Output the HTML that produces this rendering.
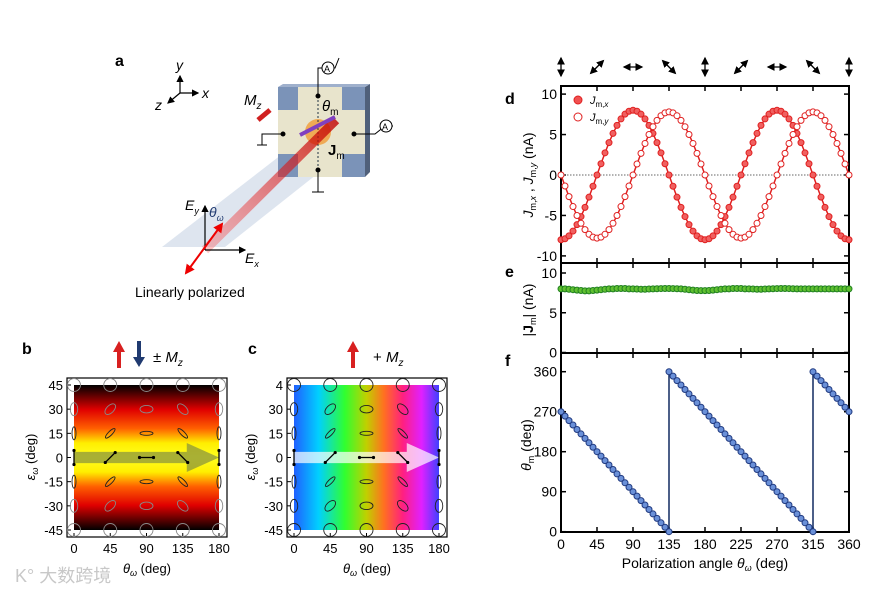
<!DOCTYPE html>
<html><head><meta charset="utf-8"><style>
html,body{margin:0;padding:0;background:#fff;}
svg{display:block;font-family:"Liberation Sans","Noto Sans CJK SC",sans-serif;}
</style></head><body>
<svg id="fig" width="884" height="590" viewBox="0 0 884 590" xmlns="http://www.w3.org/2000/svg">
<defs>
  <linearGradient id="heatB" x1="0" y1="0" x2="0" y2="1">
    <stop offset="0" stop-color="#000"/><stop offset="0.17" stop-color="#e00000"/>
    <stop offset="0.3" stop-color="#ff6000"/><stop offset="0.4" stop-color="#ffee00"/>
    <stop offset="0.5" stop-color="#ffff20"/><stop offset="0.6" stop-color="#ffee00"/>
    <stop offset="0.7" stop-color="#ff6000"/><stop offset="0.83" stop-color="#e00000"/>
    <stop offset="1" stop-color="#000"/>
  </linearGradient>
  <linearGradient id="heatC" x1="0" y1="0" x2="1" y2="0">
    <stop offset="0" stop-color="#2060ff"/><stop offset="0.17" stop-color="#00d0ff"/>
    <stop offset="0.35" stop-color="#30ff30"/><stop offset="0.5" stop-color="#c0d000"/>
    <stop offset="0.62" stop-color="#ff7020"/><stop offset="0.75" stop-color="#ff2080"/>
    <stop offset="0.88" stop-color="#e020ff"/><stop offset="1" stop-color="#4040ff"/>
  </linearGradient>
  <linearGradient id="beam" x1="0" y1="1" x2="1" y2="0">
    <stop offset="0" stop-color="#ff4040" stop-opacity="0.3"/><stop offset="1" stop-color="#c00000" stop-opacity="0.8"/>
  </linearGradient>
  <marker id="ah" markerWidth="6" markerHeight="6" refX="5" refY="3" orient="auto-start-reverse"><path d="M0,0 L6,3 L0,6 z" fill="#000"/></marker>
  <marker id="ahr" markerWidth="5" markerHeight="5" refX="4" refY="2.5" orient="auto-start-reverse"><path d="M0,0 L5,2.5 L0,5 z" fill="#e00"/></marker>
</defs>

<g>
  <text x="115" y="66" font-size="16" font-weight="bold">a</text>
  <g stroke="#000" stroke-width="1.2" fill="none">
    <line x1="180" y1="93" x2="180" y2="76" marker-end="url(#ah)"/>
    <line x1="180" y1="93" x2="198" y2="93" marker-end="url(#ah)"/>
    <line x1="180" y1="93" x2="168" y2="103" marker-end="url(#ah)"/>
  </g>
  <text x="176" y="70" font-size="14" font-style="italic">y</text>
  <text x="202" y="98" font-size="14" font-style="italic">x</text>
  <text x="155" y="110" font-size="14" font-style="italic">z</text>
  <polygon points="162,247 225,247 350,148 290,148" fill="#c8d4e4" opacity="0.6"/>
  <rect x="278" y="87" width="87" height="90" fill="#7b93b8"/>
  <polygon points="365,87 370,84 370,172 365,177" fill="#50607a"/>
  <polygon points="278,87 283,84 370,84 365,87" fill="#9fb0cc"/>
  <rect x="298" y="87" width="44" height="90" fill="#e8e4cc"/>
  <rect x="278" y="110" width="87" height="44" fill="#e8e4cc"/>
  <circle cx="318" cy="132" r="13" fill="#f0a040" opacity="0.85"/>
  <line x1="318" y1="96" x2="318" y2="170" stroke="#234" stroke-dasharray="2,2"/>
  <line x1="205" y1="250" x2="336" y2="120" stroke="url(#beam)" stroke-width="9"/>
  <line x1="300" y1="135" x2="335" y2="117" stroke="#8040c0" stroke-width="4"/>
  <g stroke="#000" fill="none" stroke-width="1">
    <circle cx="318" cy="96" r="2" fill="#000"/><circle cx="318" cy="170" r="2" fill="#000"/>
    <circle cx="283" cy="134" r="2" fill="#000"/><circle cx="354" cy="134" r="2" fill="#000"/>
    <polyline points="318,96 318,68 335,68 339,58"/><circle cx="328" cy="68" r="6" fill="#fff"/>
    <polyline points="354,134 375,134 385,126 393,126"/><circle cx="386" cy="126" r="6" fill="#fff"/>
    <polyline points="318,170 318,192"/><line x1="312" y1="192" x2="324" y2="192"/>
    <polyline points="283,134 262,134 262,145"/><line x1="257" y1="145" x2="267" y2="145"/>
  </g>
  <text x="324" y="72" font-size="9">A</text><text x="382" y="130" font-size="9">A</text>
  <line x1="270" y1="110" x2="258" y2="120" stroke="#d02020" stroke-width="5"/>
  <text x="244" y="105" font-size="15" font-style="italic">M<tspan font-size="10" dy="4">z</tspan></text>
  <text x="322" y="111" font-size="15" font-style="italic">θ<tspan font-size="10" dy="4" font-style="normal">m</tspan></text>
  <text x="328" y="155" font-size="15" font-weight="bold">J<tspan font-size="10" dy="4" font-weight="normal">m</tspan></text>
  <g stroke="#000" stroke-width="1.2" fill="none">
    <line x1="205" y1="250" x2="205" y2="206" marker-end="url(#ah)"/>
    <line x1="205" y1="250" x2="245" y2="250" marker-end="url(#ah)"/>
  </g>
  <line x1="222" y1="224" x2="186" y2="273" stroke="#e00" stroke-width="2" marker-start="url(#ahr)" marker-end="url(#ahr)"/>
  <text x="185" y="210" font-size="14" font-style="italic">E<tspan font-size="9" dy="4">y</tspan></text>
  <text x="209" y="217" font-size="14" font-style="italic" fill="#203a70">θ<tspan font-size="9" dy="4">ω</tspan></text>
  <text x="245" y="263" font-size="14" font-style="italic">E<tspan font-size="9" dy="4">x</tspan></text>
  <text x="135" y="297" font-size="14">Linearly polarized</text>
</g>

<text x="22" y="354" font-size="16" font-weight="bold">b</text>
<text x="248" y="354" font-size="16" font-weight="bold">c</text>
<g>
  <polygon points="117,368 121,368 121,352 125,352 119,341 113,352 117,352" fill="#d82020"/>
  <polygon points="137,341 141,341 141,357 145,357 139,367 133,357 137,357" fill="#203a70"/>
  <text x="153" y="362" font-size="15">± <tspan font-style="italic">M</tspan><tspan font-size="10" dy="4" font-style="italic">z</tspan></text>
  <polygon points="351,368 355,368 355,352 359,352 353,341 347,352 351,352" fill="#d82020"/>
  <text x="373" y="362" font-size="15">+ <tspan font-style="italic">M</tspan><tspan font-size="10" dy="4" font-style="italic">z</tspan></text>
</g>
<g id="panelB"></g>
<g id="panelC"></g>

<g id="right"></g>

<text x="15" y="582" font-size="18" fill="#c8c8c8">K° 大数跨境</text>
</svg>
<script>
const NS="http://www.w3.org/2000/svg";
function mk(parent,tag,attrs,text){const e=document.createElementNS(NS,tag);for(const k in attrs)e.setAttribute(k,attrs[k]);if(text!==undefined)e.textContent=text;parent.appendChild(e);return e;}

const thetaDeg=[0,5,10,15,20,25,30,35,40,45,50,55,60,65,70,75,80,85,90,95,100,105,110,115,120,125,130,135,140,145,150,155,160,165,170,175,180,185,190,195,200,205,210,215,220,225,230,235,240,245,250,255,260,265,270,275,280,285,290,295,300,305,310,315,320,325,330,335,340,345,350,355,360];
const jmx=[-8,-7.88,-7.52,-6.93,-6.13,-5.14,-4,-2.74,-1.39,0,1.39,2.74,4,5.14,6.13,6.93,7.52,7.88,8,7.88,7.52,6.93,6.13,5.14,4,2.74,1.39,0,-1.39,-2.74,-4,-5.14,-6.13,-6.93,-7.52,-7.88,-8,-7.88,-7.52,-6.93,-6.13,-5.14,-4,-2.74,-1.39,0,1.39,2.74,4,5.14,6.13,6.93,7.52,7.88,8,7.88,7.52,6.93,6.13,5.14,4,2.74,1.39,0,-1.39,-2.74,-4,-5.14,-6.13,-6.93,-7.52,-7.88,-8];
const jmy=[0,-1.36,-2.67,-3.9,-5.01,-5.97,-6.75,-7.33,-7.68,-7.8,-7.68,-7.33,-6.75,-5.97,-5.01,-3.9,-2.67,-1.36,0,1.36,2.67,3.9,5.01,5.97,6.75,7.33,7.68,7.8,7.68,7.33,6.75,5.97,5.01,3.9,2.67,1.36,0,-1.36,-2.67,-3.9,-5.01,-5.97,-6.75,-7.33,-7.68,-7.8,-7.68,-7.33,-6.75,-5.97,-5.01,-3.9,-2.67,-1.36,0,1.36,2.67,3.9,5.01,5.97,6.75,7.33,7.68,7.8,7.68,7.33,6.75,5.97,5.01,3.9,2.67,1.36,0];
const jmAbs=[8,8,7.95,7.9,7.85,7.8,7.75,7.75,7.8,7.85,7.9,7.95,8,8,8.05,8.05,8.05,8,8,7.98,7.96,7.96,7.98,8,8.02,8.04,8.05,8.05,8.04,8.02,8,7.95,7.9,7.85,7.8,7.78,7.78,7.8,7.85,7.9,7.95,8,8,8.05,8.05,8.05,8,8,7.98,7.96,7.96,7.98,8,8.02,8.04,8.05,8.05,8.04,8.02,8,8,8,8,8,8,8,8,8,8,8,8,8,8];
const thetaMX=[0,5,10,15,20,25,30,35,40,45,50,55,60,65,70,75,80,85,90,95,100,105,110,115,120,125,130,135,135,140,145,150,155,160,165,170,175,180,185,190,195,200,205,210,215,220,225,230,235,240,245,250,255,260,265,270,275,280,285,290,295,300,305,310,315,315,320,325,330,335,340,345,350,355,360];
const thetaMY=[270,260,250,240,230,220,210,200,190,180,170,160,150,140,130,120,110,100,90,80,70,60,50,40,30,20,10,0,360,350,340,330,320,310,300,290,280,270,260,250,240,230,220,210,200,190,180,170,160,150,140,130,120,110,100,90,80,70,60,50,40,30,20,10,0,360,350,340,330,320,310,300,290,280,270];
const xTicks=[0,45,90,135,180,225,270,315,360];
const dTicks=[10,5,0,-5,-10], eTicks=[10,5,0], fTicks=[360,270,180,90,0];
const pol=[90,45,0,135,90,45,0,135,90];

const X=v=>561+v*(288/360);
const Yd=v=>175-v*8.09;
const Ye=v=>352.5-v*7.95;
const Yf=v=>531.7-v*(160/360);
const R=document.getElementById('right');

pol.forEach((a,i)=>{const cx=X(xTicks[i]),cy=67,L=9,r=a*Math.PI/180;
  const l=mk(R,'line',{x1:cx-L*Math.cos(r),y1:cy+L*Math.sin(r),x2:cx+L*Math.cos(r),y2:cy-L*Math.sin(r),stroke:'#000','stroke-width':1.3,'marker-start':'url(#ah)','marker-end':'url(#ah)'});
  
  });

function frame(top,bot,ticks,Yf_,label,letter,ly){
  const g=mk(R,'g',{});
  
  
  mk(g,'rect',{x:X(0),y:top,width:X(360)-X(0),height:bot-top,fill:'none',stroke:'#000','stroke-width':2});
  xTicks.forEach(t=>{mk(g,'line',{x1:X(t),x2:X(t),y1:top,y2:top+5,stroke:'#000','stroke-width':1.5});mk(g,'line',{x1:X(t),x2:X(t),y1:bot,y2:bot-5,stroke:'#000','stroke-width':1.5});});
  ticks.forEach(t=>{const y=Yf_(t);mk(g,'line',{x1:X(0),x2:X(0)+5,y1:y,y2:y,stroke:'#000','stroke-width':1.5});mk(g,'line',{x1:X(360),x2:X(360)-5,y1:y,y2:y,stroke:'#000','stroke-width':1.5});
    const tl=mk(g,'text',{x:X(0)-4,y:y+5,'font-size':14,'text-anchor':'end'},String(t));
    
    });
  mk(g,'text',{x:505,y:ly,'font-size':16,'font-weight':'bold'},letter);
  return g;
}
const gd=frame(86,263,dTicks,Yd,'','d',104);
const ge=frame(263,353,eTicks,Ye,'','e',277);
const gf=frame(353,532,fTicks,Yf,'','f',366);
mk(gd,'line',{x1:X(0),x2:X(360),y1:Yd(0),y2:Yd(0),stroke:'#666','stroke-dasharray':'1.5,1.5'});

mk(R,'text',{transform:'translate(533,175) rotate(-90)','font-size':14,'text-anchor':'middle'}).innerHTML='<tspan font-style="italic">J</tspan><tspan font-size="9" dy="3">m,<tspan font-style="italic">x</tspan></tspan><tspan dy="-3"> , </tspan><tspan font-style="italic">J</tspan><tspan font-size="9" dy="3">m,<tspan font-style="italic">y</tspan></tspan><tspan dy="-3"> (nA)</tspan>';
mk(R,'text',{transform:'translate(533,310) rotate(-90)','font-size':14,'text-anchor':'middle'}).innerHTML='|<tspan font-weight="bold">J</tspan><tspan font-size="9" dy="3">m</tspan><tspan dy="-3">| (nA)</tspan>';
mk(R,'text',{transform:'translate(531,445) rotate(-90)','font-size':14,'text-anchor':'middle'}).innerHTML='<tspan font-style="italic">θ</tspan><tspan font-size="9" dy="3">m</tspan><tspan dy="-3"> (deg)</tspan>';
xTicks.forEach(t=>{const tl=mk(R,'text',{x:X(t),y:549,'font-size':14,'text-anchor':'middle'},String(t));
  
  });
const xl=mk(R,'text',{x:X(180),y:568,'font-size':14,'text-anchor':'middle'});
xl.innerHTML='Polarization angle  <tspan font-style="italic">θ</tspan><tspan font-size="9" dy="3" font-style="italic">ω</tspan><tspan dy="-3"> (deg)</tspan>';



mk(gd,'circle',{cx:578,cy:100,r:4,fill:'#f05050',stroke:'#e02020'});
mk(gd,'text',{x:590,y:104,'font-size':11,'font-style':'italic'}).innerHTML='J<tspan font-size="8" dy="3" font-style="normal">m,</tspan><tspan font-size="8">x</tspan>';
mk(gd,'circle',{cx:578,cy:117,r:4,fill:'#fff',stroke:'#e02020'});
mk(gd,'text',{x:590,y:121,'font-size':11,'font-style':'italic'}).innerHTML='J<tspan font-size="8" dy="3" font-style="normal">m,</tspan><tspan font-size="8">y</tspan>';

function series(g,xs,ys,Y,lineCol,fill,stroke,name){
  const pl=mk(g,'polyline',{points:xs.map((x,i)=>X(x)+','+Y(ys[i])).join(' '),fill:'none',stroke:lineCol,'stroke-width':1.5});
  
  
  xs.forEach((x,i)=>{const c=mk(g,'circle',{cx:X(x),cy:Y(ys[i]),r:3,fill:fill,stroke:stroke,'stroke-width':1});
    
    });
}
series(gd,thetaDeg,jmx,Yd,'#e02020','#f06060','#e02020','jmx');
series(gd,thetaDeg,jmy,Yd,'#e02020','#fff','#e02020','jmy');
series(ge,thetaDeg,jmAbs,Ye,'#208020','#60c030','#208020','jm-abs');
series(gf,thetaMX,thetaMY,Yf,'#102a60','#6a90d8','#203a80','theta-m');

const epsTicks=[45,30,15,0,-15,-30,-45];
const thTicks=[0,45,90,135,180];
const ellTheta=[0,45,90,135,180];
const ellEps=[45,30,15,0,-15,-30,-45];
function heat(gid,x0,fill,arrowFill,topLabel){
  const g=document.getElementById(gid);
  const XX=v=>x0+7+v*(145/180), YY=v=>457.5-v*(145/90);
  mk(g,'rect',{x:x0,y:378,width:160,height:159,fill:'#fff',stroke:'#000','stroke-width':1.2});
  mk(g,'rect',{x:XX(0),y:YY(45),width:XX(180)-XX(0),height:YY(-45)-YY(45),fill:fill});
  mk(g,'polygon',{points:`${XX(0)},${YY(3.5)} ${XX(140)},${YY(3.5)} ${XX(140)},${YY(9)} ${XX(180)},${YY(0)} ${XX(140)},${YY(-9)} ${XX(140)},${YY(-3.5)} ${XX(0)},${YY(-3.5)}`,fill:arrowFill});
  thTicks.forEach(t=>{mk(g,'line',{x1:XX(t),x2:XX(t),y1:537,y2:533,stroke:'#000'});
    const tl=mk(g,'text',{x:XX(t),y:553,'font-size':13,'text-anchor':'middle'},String(t));
    
    });
  epsTicks.forEach((t,i)=>{mk(g,'line',{x1:x0,x2:x0+4,y1:YY(t),y2:YY(t),stroke:'#000'});
    const tl=mk(g,'text',{x:x0-4,y:YY(t)+5,'font-size':13,'text-anchor':'end'},(topLabel&&i==0)?topLabel:String(t));
    
    });
  const xt=mk(g,'text',{x:x0+80,y:573,'font-size':13,'text-anchor':'middle'});
  xt.innerHTML='<tspan font-style="italic">θ</tspan><tspan font-size="9" dy="3" font-style="italic">ω</tspan><tspan dy="-3"> (deg)</tspan>';
  const yt=mk(g,'text',{transform:`translate(${x0-32},457) rotate(-90)`,'font-size':13,'text-anchor':'middle'});
  yt.innerHTML='<tspan font-style="italic">ε</tspan><tspan font-size="9" dy="3" font-style="italic">ω</tspan><tspan dy="-3"> (deg)</tspan>';
  ellTheta.forEach(th=>ellEps.forEach(ep=>{
    const cx=XX(th),cy=YY(ep),a=(ep===0?7:6.5),b=6.5*Math.abs(Math.tan(ep*Math.PI/180));
    const ang=-(90-th);
    if(ep===0){const r=(90-th)*Math.PI/180;
      mk(g,'line',{x1:cx-a*Math.cos(r),y1:cy+a*Math.sin(r),x2:cx+a*Math.cos(r),y2:cy-a*Math.sin(r),stroke:'#000','stroke-width':1.3});
      mk(g,'circle',{cx:cx-a*Math.cos(r),cy:cy+a*Math.sin(r),r:1.6});mk(g,'circle',{cx:cx+a*Math.cos(r),cy:cy-a*Math.sin(r),r:1.6});}
    else{const e=mk(g,'ellipse',{cx:cx,cy:cy,rx:a,ry:Math.max(b,2),transform:`rotate(${ang} ${cx} ${cy})`,fill:'none',stroke:Math.abs(ep)>20&&gid=='panelB'?'#888':'#222','stroke-width':0.9});
      
      }
  }));
}
heat('panelB',67,'url(#heatB)','rgba(140,150,60,0.75)',null);
heat('panelC',287,'url(#heatC)','rgba(255,255,255,0.7)','4');
</script>
</body></html>
